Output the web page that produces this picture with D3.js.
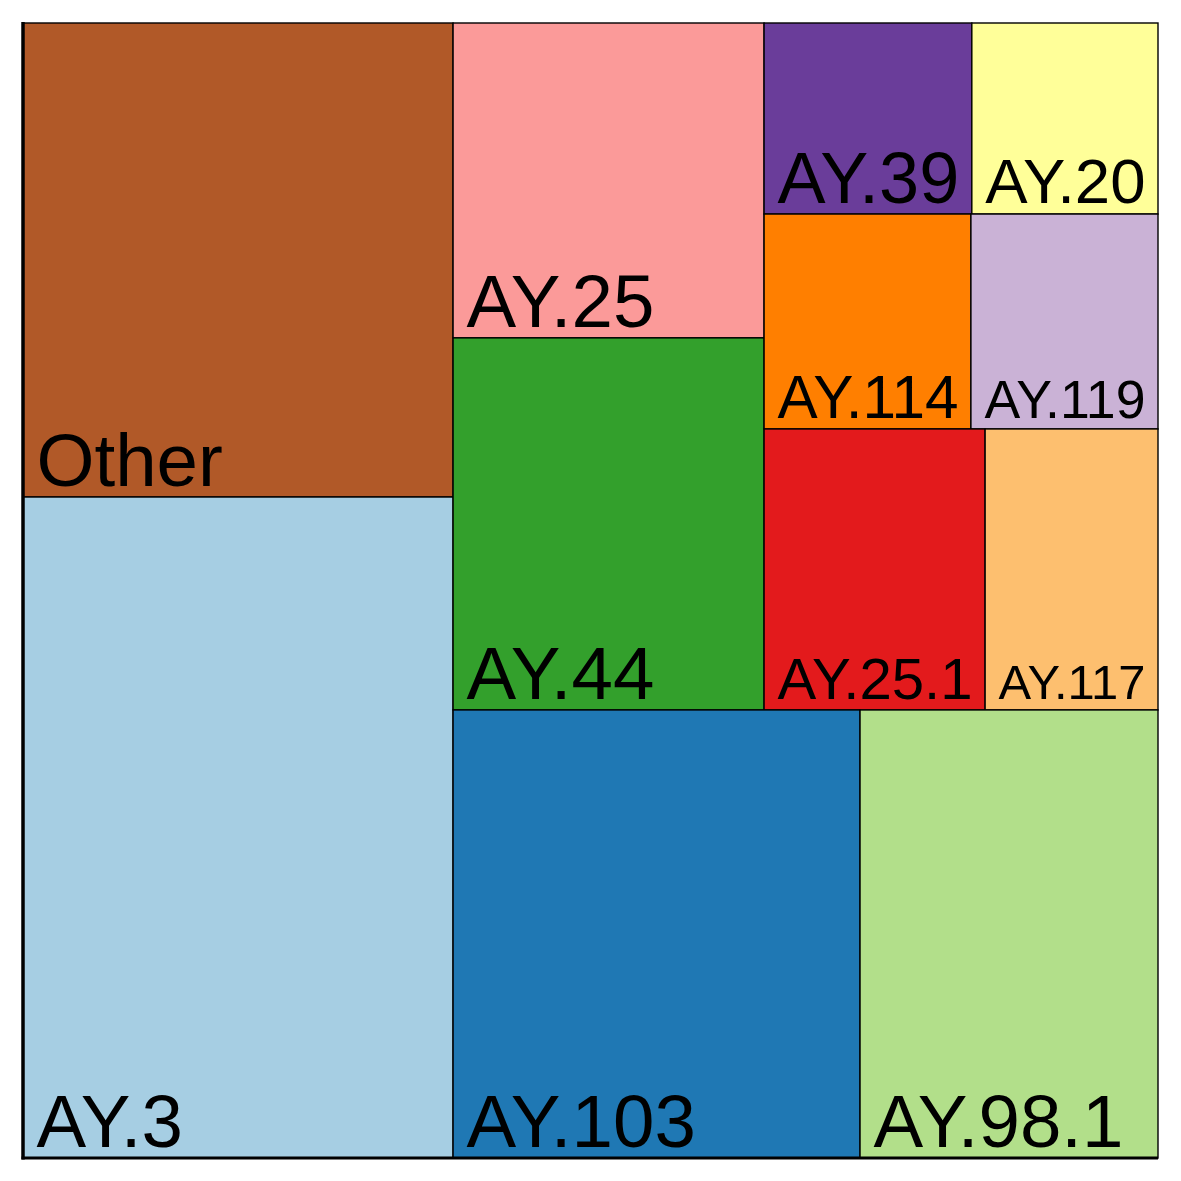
<!DOCTYPE html>
<html><head><meta charset="utf-8">
<script src="https://cdn.jsdelivr.net/npm/d3@7"></script>
<style>html,body{margin:0;padding:0;background:#fff;}svg{display:block;}</style>
</head><body>
<svg id="chart" width="1181" height="1181"></svg>
<script>
// Data
const categories = ["Other","AY.3","AY.25","AY.44","AY.39","AY.20","AY.114","AY.119","AY.25.1","AY.117","AY.103","AY.98.1"];
const values     = [15.82, 22.06, 7.60, 8.98, 3.08, 2.76, 3.45, 3.12, 4.82, 3.77, 14.15, 10.36];
const colors     = ["#B15928","#A6CEE3","#FB9A99","#33A02C","#6A3D9A","#FFFF99","#FF7F00","#CAB2D6","#E31A1C","#FDBF6F","#1F78B4","#B2DF8A"];
// layout grouping (parent block of each tile)
const parents    = ["L","L","RTA","RTA","R1","R1","R2","R2","R3","R3","RB","RB"];
const groupIds     = ["root","L","R","RT","RB","RTA","RTB","R1","R2","R3"];
const groupParents = ["",    "root","root","R","R","RT","RT","RTB","RTB","RTB"];

const X0 = 23, Y0 = 23, SIZE = 1135;
const MAXFONT = 74.5, PAD = 13;

const rows = groupIds.map((id,i)=>({id, parent: groupParents[i] || null}))
  .concat(categories.map((c,i)=>({id:c, parent:parents[i], value:values[i], color:colors[i]})));

const root = d3.stratify().id(d=>d.id).parentId(d=>d.parent)(rows)
  .sum(d=>d.value || 0);

d3.treemap().size([SIZE, SIZE]).tile(d3.treemapSliceDice).round(false)(root);

const svg = d3.select("#chart");
const g = svg.append("g").attr("transform", `translate(${X0},${Y0})`);

const leaves = root.leaves();
const cell = g.selectAll("g.cell").data(leaves).join("g").attr("class","cell");
cell.append("rect")
  .attr("x", d=>d.x0).attr("y", d=>d.y0)
  .attr("width", d=>d.x1-d.x0).attr("height", d=>d.y1-d.y0)
  .attr("fill", d=>d.data.color)
  .attr("stroke", "#000").attr("stroke-width", 1.4);

cell.append("text")
  .attr("font-family", "'Liberation Sans', Arial, Helvetica, sans-serif")
  .attr("font-size", MAXFONT)
  .attr("fill", "#000")
  .text(d=>d.data.id)
  .each(function(d){
    const w = this.getComputedTextLength();
    const avail = (d.x1 - d.x0) - 2*PAD;
    const fs = Math.min(MAXFONT, MAXFONT * avail / w);
    d3.select(this).attr("font-size", fs)
      .attr("x", d.x0 + PAD + 0.5)
      .attr("y", d.y1 - 11);
  });

// axis lines (left & bottom)
const sx = d3.scaleLinear().domain([0,1]).range([0,SIZE]);
const sy = d3.scaleLinear().domain([0,1]).range([SIZE,0]);
g.append("line").attr("x1", sx(0)).attr("x2", sx(0)).attr("y1", sy(0)+1.5).attr("y2", sy(1)-1)
  .attr("stroke","#000").attr("stroke-width",3.5);
g.append("line").attr("x1", sx(0)-1.5).attr("x2", sx(1)).attr("y1", sy(0)).attr("y2", sy(0))
  .attr("stroke","#000").attr("stroke-width",3);
</script>
</body></html>
